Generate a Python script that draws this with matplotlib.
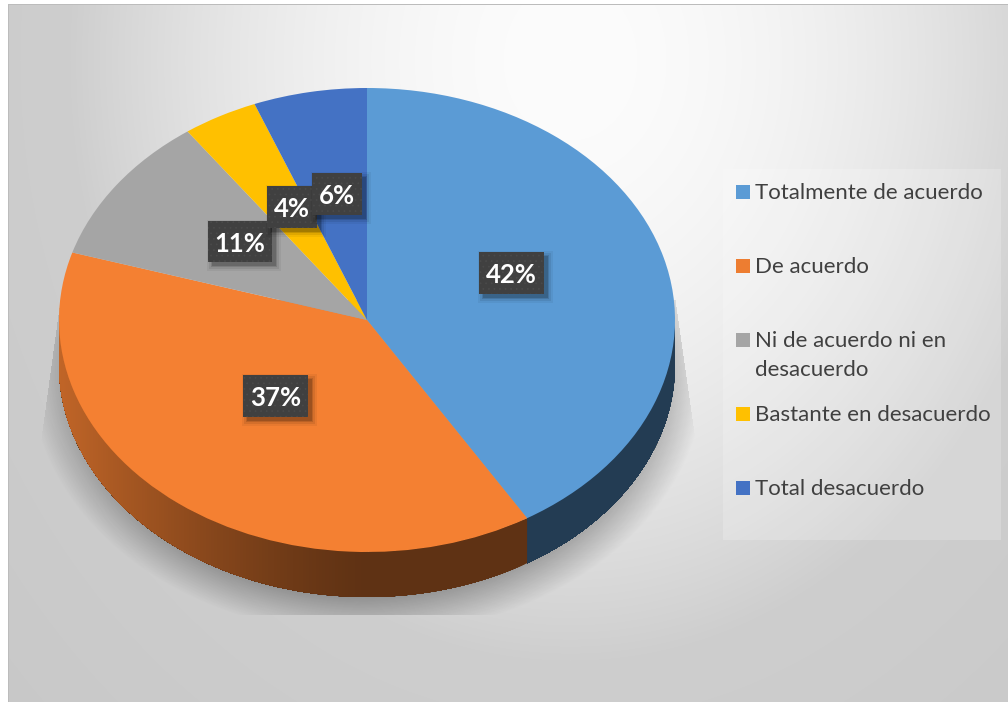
import numpy as np
import matplotlib
matplotlib.use("Agg")
import matplotlib.pyplot as plt
from matplotlib.patches import Rectangle, Polygon

plt.rcParams['font.family'] = ['Lato', 'DejaVu Sans']

categories = ["Totalmente de acuerdo", "De acuerdo", "Ni de acuerdo ni en\ndesacuerdo",
              "Bastante en desacuerdo", "Total desacuerdo"]
percent_labels = [42, 37, 11, 4, 6]
# slice sizes as they look on the tilted pie, not quite the printed percentages
slice_shares = [41.3, 38.4, 10.4, 3.95, 5.95]
top_colors = ["#5B9BD5", "#F48032", "#A5A5A5", "#FFC000", "#4472C4"]
legend_colors = ["#5B9BD5", "#ED7D31", "#A5A5A5", "#FFC000", "#4472C4"]

W, H = 1008, 702
# pie ellipse in pixels
CX, CY, RX, RY, DEPTH = 367, 320, 308, 232, 45
# percent label boxes: left, top, right, bottom in pixels
label_boxes = [(479, 252, 544, 294), (243, 375, 308, 417), (208, 221, 272, 262),
               (267, 186, 317, 228), (312, 173, 362, 215)]
legend_rows = [192, 266, 340, 414, 488]


def background():
    yy, xx = np.mgrid[0:H, 0:W]
    r = np.hypot(xx - 570, (yy - 60) / 1.2)
    grey = 252 - 46 * np.clip(r / 500, 0, 1) ** 1.9 - 6 * np.clip((r - 500) / 300, 0, 1)
    img = np.dstack([grey, grey, grey]) / 255
    img[:4, :] = 1
    img[:, :8] = 1
    img[4, 8:] = 0.74
    img[4:, 8] = 0.74
    return img


def pie_shadow():
    yy, xx = np.mgrid[0:H, 0:W]
    r = np.hypot((xx - CX) / (RX + 30), (yy - (CY + DEPTH + 8)) / (RY + 30))
    a = 0.3 * np.clip((1.0 - r) / 0.15, 0, 1)
    # shadow plane is cut off like in the original
    a[yy > 614] = 0
    a[xx < 38] = 0
    a[xx > 695] = 0
    a[(yy < 460) & (xx < 38 + (460 - yy) * 22 / 160)] = 0
    a[(yy < 440) & (xx > 695 - (440 - yy) * 20 / 140)] = 0
    a[yy < 300] = 0
    img = np.zeros((H, W, 4))
    img[..., 3] = a
    return img


fig = plt.figure(figsize=(W / 100, H / 100), dpi=100)

ax_bg = fig.add_axes([0, 0, 1, 1], zorder=0)
ax_bg.imshow(background(), extent=(0, W, H, 0), aspect='auto', interpolation='nearest')
ax_bg.imshow(pie_shadow(), extent=(0, W, H, 0), aspect='auto', interpolation='bilinear')
ax_bg.add_patch(Rectangle((723, 169), 278, 371, facecolor='white', alpha=0.2, edgecolor='none'))
ax_bg.set_xlim(0, W)
ax_bg.set_ylim(H, 0)
ax_bg.axis('off')

ax_pie = fig.add_axes([0, 0, 1, 1], zorder=1)
ax_pie.patch.set_alpha(0)
ax_pie.pie(slice_shares, colors=top_colors, startangle=90, counterclock=False, radius=1,
           wedgeprops=dict(linewidth=0))

# side wall, darker toward the front and on the right
edges = np.cumsum([0] + slice_shares) / np.sum(slice_shares) * 2 * np.pi
depth = DEPTH / RY
for i, col in enumerate(top_colors):
    start = max(edges[i], np.pi / 2)
    stop = min(edges[i + 1], 3 * np.pi / 2)
    if stop <= start:
        continue
    base = np.array(matplotlib.colors.to_rgb(col))
    arc = np.linspace(start, stop, 200)
    # painted back to front over each other so no seams show between the steps
    for k in range(len(arc) - 1):
        part = arc[k:]
        xs, ys = np.sin(part), np.cos(part)
        f = 0.39 + 0.40 * max(0, -xs[0]) ** 1.3
        pts = np.r_[np.c_[xs, ys], np.c_[xs, ys - depth][::-1]]
        ax_pie.add_patch(Polygon(pts, facecolor=base * f, edgecolor='none', linewidth=0, zorder=0.5))
ax_pie.set_aspect('auto')
ax_pie.set_xlim((0 - CX) / RX, (W - CX) / RX)
ax_pie.set_ylim((CY - H) / RY, CY / RY)
ax_pie.axis('off')

ax_top = fig.add_axes([0, 0, 1, 1], zorder=2)
ax_top.patch.set_alpha(0)
ax_top.set_xlim(0, W)
ax_top.set_ylim(H, 0)
ax_top.axis('off')

plt.rcParams['hatch.linewidth'] = 0.5

# percent labels
for val, (l, t, r, b) in zip(percent_labels, label_boxes):
    for grow, alpha in [(5, 0.05), (3, 0.08), (1, 0.12), (0, 0.16)]:
        ax_top.add_patch(Rectangle((l + 4 - grow, t + 4 - grow), r - l + 2 * grow, b - t + 2 * grow,
                                   facecolor='black', alpha=alpha, edgecolor='none'))
    ax_top.add_patch(Rectangle((l, t), r - l, b - t, facecolor='#404040', edgecolor='#4A4A4A',
                               hatch='...', linewidth=0))
    ax_top.text((l + r) / 2, (t + b) / 2 + 2, f"{val}%", color='white', fontsize=18.5,
                fontweight='bold', ha='center', va='center')

# legend
for name, col, y in zip(categories, legend_colors, legend_rows):
    ax_top.add_patch(Rectangle((736, y - 7), 14, 14, facecolor=col, edgecolor='none'))
    for j, line in enumerate(name.split("\n")):
        ax_top.text(755, y + 7 + j * 29, line, color='#404040', fontsize=16, ha='left', va='baseline')

fig.savefig("out.png", dpi=100)
